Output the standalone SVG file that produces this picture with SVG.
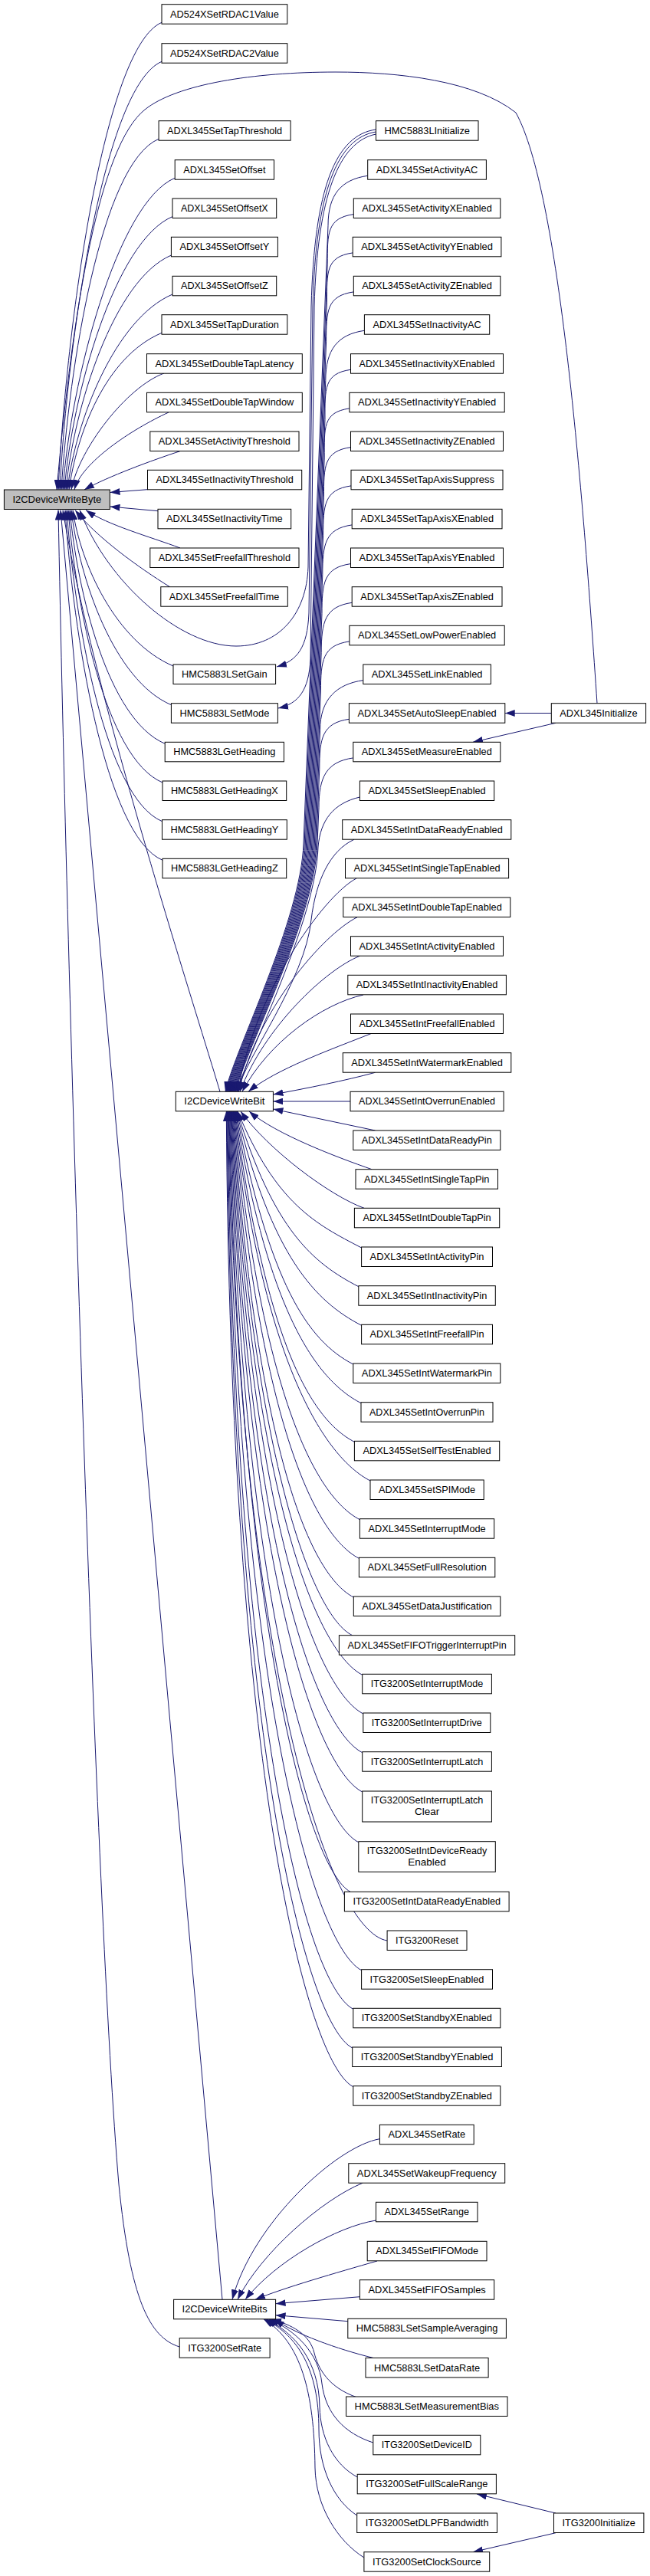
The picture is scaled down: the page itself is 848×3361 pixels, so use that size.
<svg xmlns="http://www.w3.org/2000/svg" width="848" height="3361" viewBox="0 0 848 3361">
<style>
.n rect{fill:#fff;stroke:#000;stroke-width:1}
.n.hl rect{fill:#bfbfbf}
.n text{font-family:"Liberation Sans",Arial,sans-serif;font-size:13.5px;text-anchor:middle;fill:#000}
#edges path{fill:none;stroke:#191970;stroke-width:1;marker-end:url(#ah)}
</style>
<defs>
<marker id="ah" markerUnits="userSpaceOnUse" markerWidth="13" markerHeight="9" refX="13" refY="4.5" orient="auto"><path d="M0,0 L13,4.5 L0,9 z" fill="#191970"/></marker>
</defs>
<rect width="848" height="3361" fill="#fff"/>
<g id="edges">
<!-- into I2CDeviceWriteByte from above -->
<path d="M779,917.7 C760,640 730,250 673,147 C620,105 520,94 438,94 C330,94 230,110 189,143 C130,190 95,400 74,639"/>
<path d="M211,29.3 C136,61.3 86,426.3 76,639"/>
<path d="M211,80.3 C136,112.3 88,444.2 78,639"/>
<path d="M207,181.3 C132,213.3 90,479.2 80,639"/>
<path d="M228,232.3 C153,264.3 92,497.4 82,639"/>
<path d="M225,282.6 C150,314.6 94,515 84,639"/>
<path d="M223.4,333 C148.4,365 96,532.6 86,639"/>
<path d="M225,384 C150,416 98,550.4 88,639"/>
<path d="M211,434.3 C136,466.3 100,568 90,639"/>
<path d="M214,487 C165,505 103,586 93,639"/>
<path d="M220,538 C172,560 106,603.6 97,639"/>
<path d="M235,588.6 C200,600 140,622 110,639"/>
<path d="M192.5,638.7 L143.5,642.5"/>
<path d="M206,666.7 L143.5,661"/>
<path d="M235,715 C195,700 140,685 112,665.5"/>
<path d="M222,766 C180,740 125,700 98,665.5"/>
<!-- into I2CDeviceWriteByte from below -->
<path d="M490.5,169 C438,176 410,245 406,400 L402,740 C400,800 365,843 308,843 C235,843 140,760 104,665.5"/>
<path d="M226,869 C151,837 105,735.7 95,665.5"/>
<path d="M223.4,919.7 C148.4,887.7 103,753.4 93,665.5"/>
<path d="M215.2,970.3 C140.2,938.3 101,771 91,665.5"/>
<path d="M212,1021 C137,989 99,788.9 89,665.5"/>
<path d="M211.5,1071.7 C136.5,1039.7 97,806.6 87,665.5"/>
<path d="M212,1122.3 C137,1090.3 95,824.4 85,665.5"/>
<path d="M287,1424.3 C250,1300 120,900 82,665.5"/>
<path d="M290,3000.3 L79,665.5"/>
<path d="M234.2,3062 C195,3050 170,3000 155,2850 C125,2500 88,1300 76,665.5"/>
<!-- HMC5883LInitialize -->
<path d="M490.5,172 C440,180 412,250 408,400 L403,800 C401,845 388,862 361,870"/>
<path d="M490.5,175 C442,185 414,255 410,400 L405,860 C403,900 390,918 363,924"/>
<!-- ADXL345Initialize / ITG3200Initialize -->
<path d="M719.3,930.5 L658.7,930.5"/>
<path d="M725,943.3 L617,968.3"/>
<path d="M725,3279 L622,3254"/>
<path d="M725,3304.7 L617,3329.7"/>
<!-- into I2CDeviceWriteBit from above -->
<path d="M479.7,229.3 C444.7,234.3 428,254.3 428,294.3 L396,1100 C393,1200 306,1370 294,1424.3"/>
<path d="M461.3,279.6 C426.3,284.6 427.2,304.6 427.2,344.6 L397.2,1100 C394.2,1200 306.9,1370 294.9,1424.3"/>
<path d="M460.2,329.9 C425.2,334.9 426.4,354.9 426.4,394.9 L398.4,1100 C395.4,1200 307.8,1370 295.8,1424.3"/>
<path d="M461.3,380.9 C426.3,385.9 425.6,405.9 425.6,445.9 L399.6,1100 C396.6,1200 308.7,1370 296.7,1424.3"/>
<path d="M475.4,431.3 C440.4,436.3 424.8,456.3 424.8,496.3 L400.8,1100 C397.8,1200 309.6,1370 297.6,1424.3"/>
<path d="M457.5,482.3 C422.5,487.3 424,507.3 424,547.3 L402,1100 C399,1200 310.5,1370 298.5,1424.3"/>
<path d="M455.9,532.9 C420.9,537.9 423.2,557.9 423.2,597.9 L403.2,1100 C400.2,1200 311.4,1370 299.4,1424.3"/>
<path d="M457.5,583.6 C422.5,588.6 422.4,608.6 422.4,648.6 L404.4,1100 C401.4,1200 312.3,1370 300.3,1424.3"/>
<path d="M458,633.9 C423,638.9 421.6,658.9 421.6,698.9 L405.6,1100 C402.6,1200 313.2,1370 301.2,1424.3"/>
<path d="M459.2,684.9 C424.2,689.9 420.8,709.9 420.8,749.9 L406.8,1100 C403.8,1200 314.1,1370 302.1,1424.3"/>
<path d="M457.5,735.6 C422.5,740.6 420,760.6 420,800.6 L408,1100 C405,1200 315,1370 303,1424.3"/>
<path d="M459.2,786.3 C424.2,791.3 419.2,811.3 419.2,851.3 L409.2,1100 C406.2,1200 315.9,1370 303.9,1424.3"/>
<path d="M455.9,836.9 C420.9,841.9 418.4,861.9 418.4,901.9 L410.4,1100 C407.4,1200 316.8,1370 304.8,1424.3"/>
<path d="M473.8,887.6 C438.8,892.6 417.6,912.6 417.6,952.6 L411.6,1100 C408.6,1200 317.7,1370 305.7,1424.3"/>
<path d="M455.4,938.3 C420.4,943.3 416.8,963.3 416.8,1003.3 L412.8,1100 C409.8,1200 318.6,1370 306.6,1424.3"/>
<path d="M460.8,988.9 C425.8,993.9 416,1013.9 416,1053.9 L414,1100 C411,1200 319.5,1370 307.5,1424.3"/>
<path d="M469.4,1040 C435,1048 418,1070 415,1105 C412,1200 330,1360 308.5,1424.3"/>
<path d="M462,1095.3 C430,1110 412,1150 406,1200 C398,1280 320,1380 309.5,1424.3"/>
<path d="M465,1146 C420,1170 330,1300 310.5,1424.3"/>
<path d="M466,1196.7 C420,1220 335,1320 311.5,1424.3"/>
<path d="M469.4,1247.3 C425,1265 345,1340 313,1424.3"/>
<path d="M474,1298 C420,1310 350,1360 316,1424.3"/>
<path d="M484,1348.6 C430,1370 360,1395 324,1424.3"/>
<path d="M489.5,1399.3 C450,1410 400,1420 356.4,1428"/>
<path d="M457,1437 L356.4,1437"/>
<!-- into I2CDeviceWriteBit from below -->
<path d="M489.5,1475 L356.4,1447"/>
<path d="M485,1525.7 C440,1510 360,1480 325,1450"/>
<path d="M475,1576.3 C430,1560 350,1500 314,1450"/>
<path d="M471.6,1628 C411.6,1597 360,1570.4 310,1450"/>
<path d="M467.8,1678.7 C407.8,1647.7 357.2,1604.8 309.3,1450"/>
<path d="M471.6,1729.3 C411.6,1698.3 354.3,1639.2 308.6,1450"/>
<path d="M460.8,1780 C400.8,1749 351.5,1673.7 307.9,1450"/>
<path d="M471,1830.7 C411,1799.7 348.6,1708.2 307.2,1450"/>
<path d="M462.4,1881.3 C402.4,1850.3 345.8,1742.6 306.5,1450"/>
<path d="M483,1932 C423,1901 342.9,1777.1 305.8,1450"/>
<path d="M469.4,1982.7 C409.4,1951.7 340.1,1811.6 305.1,1450"/>
<path d="M468.4,2033.3 C408.4,2002.3 337.3,1846 304.4,1450"/>
<path d="M461.3,2084 C401.3,2053 334.4,1880.4 303.7,1450"/>
<path d="M459.7,2133.7 C410,2110 331.6,1914.9 303,1450"/>
<path d="M472.7,2185.3 C412.7,2154.3 328.7,1949.3 302.3,1450"/>
<path d="M473.8,2236 C413.8,2205 325.9,1983.8 301.6,1450"/>
<path d="M472.7,2286.7 C412.7,2255.7 323,2018.3 300.9,1450"/>
<path d="M472.7,2338 C412.7,2307 320.2,2053.2 300.2,1450"/>
<path d="M467.8,2403.7 C407.8,2372.7 317.4,2097.8 299.5,1450"/>
<path d="M457,2468.3 C405,2440 314.5,2142.4 298.8,1450"/>
<path d="M505.1,2532 C430,2520 311.7,2177 298.1,1450"/>
<path d="M471.6,2570.7 C411.6,2539.7 308.8,2211.4 297.4,1450"/>
<path d="M460.8,2621.3 C400.8,2590.3 306,2245.8 296.7,1450"/>
<path d="M459.7,2672 C399.7,2641 303.1,2280.3 296,1450"/>
<path d="M460.8,2722.7 C400.8,2691.7 300.3,2314.8 295.3,1450"/>
<!-- into I2CDeviceWriteBits -->
<path d="M495.4,2790.7 C440,2800 330,2900 303,3000.3"/>
<path d="M473,2848.3 C420,2870 340,2940 310,3000.3"/>
<path d="M490.5,2897 C440,2905 360,2950 320,3000.3"/>
<path d="M492,2950 C440,2965 370,2985 333,3000.3"/>
<path d="M469.4,2996.7 L359.6,3005.7"/>
<path d="M453.8,3028.7 L359.6,3020.7"/>
<path d="M487,3076.5 C440,3065 385,3045 358,3026"/>
<path d="M466,3128 C428,3115 415,3090 410,3070 C404,3045 380,3033 354,3026"/>
<path d="M486.8,3187 C450,3175 425,3150 420,3110 C416,3070 385,3040 351,3026"/>
<path d="M466.2,3232 C435,3215 418,3180 417,3140 C416,3080 385,3045 348,3026"/>
<path d="M465.7,3282 C435,3262 416,3220 416,3170 C416,3090 388,3048 346,3026"/>
<path d="M474.9,3337 C440,3315 412,3270 411,3220 C410,3120 392,3055 344,3026"/>
</g>
<!-- column 1 -->
<g id="n_writebyte" class="n hl"><rect x="5.4" y="639" width="137.9" height="25.5"/><text x="74.35" y="656" textLength="115.9" lengthAdjust="spacingAndGlyphs">I2CDeviceWriteByte</text></g>
<!-- column 2 -->
<g id="n_rdac1" class="n"><rect x="211" y="5.7" width="163.8" height="25.5"/><text x="292.9" y="22.7" textLength="141.8" lengthAdjust="spacingAndGlyphs">AD524XSetRDAC1Value</text></g>
<g id="n_rdac2" class="n"><rect x="211" y="56.7" width="163.8" height="25.5"/><text x="292.9" y="73.7" textLength="141.8" lengthAdjust="spacingAndGlyphs">AD524XSetRDAC2Value</text></g>
<g id="n_tapthr" class="n"><rect x="207.1" y="157.7" width="172" height="25.5"/><text x="293.1" y="174.7" textLength="150" lengthAdjust="spacingAndGlyphs">ADXL345SetTapThreshold</text></g>
<g id="n_offset" class="n"><rect x="228.2" y="208.7" width="129.3" height="25.5"/><text x="292.85" y="225.7" textLength="107.3" lengthAdjust="spacingAndGlyphs">ADXL345SetOffset</text></g>
<g id="n_offsetx" class="n"><rect x="225" y="259" width="135.7" height="25.5"/><text x="292.85" y="276" textLength="113.7" lengthAdjust="spacingAndGlyphs">ADXL345SetOffsetX</text></g>
<g id="n_offsety" class="n"><rect x="223.4" y="309.3" width="139" height="25.5"/><text x="292.9" y="326.3" textLength="117" lengthAdjust="spacingAndGlyphs">ADXL345SetOffsetY</text></g>
<g id="n_offsetz" class="n"><rect x="225" y="360.3" width="135.7" height="25.5"/><text x="292.85" y="377.3" textLength="113.7" lengthAdjust="spacingAndGlyphs">ADXL345SetOffsetZ</text></g>
<g id="n_tapdur" class="n"><rect x="211" y="410.7" width="163.8" height="25.5"/><text x="292.9" y="427.7" textLength="141.8" lengthAdjust="spacingAndGlyphs">ADXL345SetTapDuration</text></g>
<g id="n_dtlat" class="n"><rect x="191.5" y="461.7" width="202.8" height="25.5"/><text x="292.9" y="478.7" textLength="180.8" lengthAdjust="spacingAndGlyphs">ADXL345SetDoubleTapLatency</text></g>
<g id="n_dtwin" class="n"><rect x="191.5" y="512.3" width="202.8" height="25.5"/><text x="292.9" y="529.3" textLength="180.8" lengthAdjust="spacingAndGlyphs">ADXL345SetDoubleTapWindow</text></g>
<g id="n_actthr" class="n"><rect x="195.8" y="563" width="194.2" height="25.5"/><text x="292.9" y="580" textLength="172.2" lengthAdjust="spacingAndGlyphs">ADXL345SetActivityThreshold</text></g>
<g id="n_inactthr" class="n"><rect x="192.5" y="613.3" width="201.2" height="25.5"/><text x="293.1" y="630.3" textLength="179.2" lengthAdjust="spacingAndGlyphs">ADXL345SetInactivityThreshold</text></g>
<g id="n_inacttime" class="n"><rect x="206" y="664.3" width="173.7" height="25.5"/><text x="292.85" y="681.3" textLength="151.7" lengthAdjust="spacingAndGlyphs">ADXL345SetInactivityTime</text></g>
<g id="n_ffthr" class="n"><rect x="195.8" y="715" width="194.2" height="25.5"/><text x="292.9" y="732" textLength="172.2" lengthAdjust="spacingAndGlyphs">ADXL345SetFreefallThreshold</text></g>
<g id="n_fftime" class="n"><rect x="209.8" y="765.7" width="165.5" height="25.5"/><text x="292.55" y="782.7" textLength="143.5" lengthAdjust="spacingAndGlyphs">ADXL345SetFreefallTime</text></g>
<g id="n_setgain" class="n"><rect x="226" y="867" width="133.6" height="25.5"/><text x="292.8" y="884" textLength="111.6" lengthAdjust="spacingAndGlyphs">HMC5883LSetGain</text></g>
<g id="n_setmode" class="n"><rect x="223.4" y="917.7" width="139" height="25.5"/><text x="292.9" y="934.7" textLength="117" lengthAdjust="spacingAndGlyphs">HMC5883LSetMode</text></g>
<g id="n_gethead" class="n"><rect x="215.2" y="968.3" width="155.2" height="25.5"/><text x="292.8" y="985.3" textLength="133.2" lengthAdjust="spacingAndGlyphs">HMC5883LGetHeading</text></g>
<g id="n_getheadx" class="n"><rect x="212" y="1019" width="161.7" height="25.5"/><text x="292.85" y="1036" textLength="139.7" lengthAdjust="spacingAndGlyphs">HMC5883LGetHeadingX</text></g>
<g id="n_getheady" class="n"><rect x="211.5" y="1069.7" width="162.8" height="25.5"/><text x="292.9" y="1086.7" textLength="140.8" lengthAdjust="spacingAndGlyphs">HMC5883LGetHeadingY</text></g>
<g id="n_getheadz" class="n"><rect x="212" y="1120.3" width="161.7" height="25.5"/><text x="292.85" y="1137.3" textLength="139.7" lengthAdjust="spacingAndGlyphs">HMC5883LGetHeadingZ</text></g>
<g id="n_writebit" class="n"><rect x="229.3" y="1424.3" width="127.1" height="25.5"/><text x="292.85" y="1441.3" textLength="105.1" lengthAdjust="spacingAndGlyphs">I2CDeviceWriteBit</text></g>
<g id="n_writebits" class="n"><rect x="226.6" y="3000.3" width="133" height="25.5"/><text x="293.1" y="3017.3" textLength="111" lengthAdjust="spacingAndGlyphs">I2CDeviceWriteBits</text></g>
<g id="n_itgrate" class="n"><rect x="234.2" y="3050.7" width="117.9" height="25.5"/><text x="293.15" y="3067.7" textLength="95.9" lengthAdjust="spacingAndGlyphs">ITG3200SetRate</text></g>
<!-- column 3 -->
<g id="n_hmcinit" class="n"><rect x="490.5" y="157.7" width="133.5" height="25.5"/><text x="557.25" y="174.7" textLength="111.5" lengthAdjust="spacingAndGlyphs">HMC5883LInitialize</text></g>
<g id="n_actac" class="n"><rect x="479.7" y="208.7" width="154.7" height="25.5"/><text x="557.05" y="225.7" textLength="132.7" lengthAdjust="spacingAndGlyphs">ADXL345SetActivityAC</text></g>
<g id="n_actx" class="n"><rect x="461.3" y="259" width="191.5" height="25.5"/><text x="557.05" y="276" textLength="169.5" lengthAdjust="spacingAndGlyphs">ADXL345SetActivityXEnabled</text></g>
<g id="n_acty" class="n"><rect x="460.2" y="309.3" width="193.7" height="25.5"/><text x="557.05" y="326.3" textLength="171.7" lengthAdjust="spacingAndGlyphs">ADXL345SetActivityYEnabled</text></g>
<g id="n_actz" class="n"><rect x="461.3" y="360.3" width="191.5" height="25.5"/><text x="557.05" y="377.3" textLength="169.5" lengthAdjust="spacingAndGlyphs">ADXL345SetActivityZEnabled</text></g>
<g id="n_inactac" class="n"><rect x="475.4" y="410.7" width="163.3" height="25.5"/><text x="557.05" y="427.7" textLength="141.3" lengthAdjust="spacingAndGlyphs">ADXL345SetInactivityAC</text></g>
<g id="n_inactx" class="n"><rect x="457.5" y="461.7" width="199" height="25.5"/><text x="557" y="478.7" textLength="177" lengthAdjust="spacingAndGlyphs">ADXL345SetInactivityXEnabled</text></g>
<g id="n_inacty" class="n"><rect x="455.9" y="512.3" width="202.3" height="25.5"/><text x="557.05" y="529.3" textLength="180.3" lengthAdjust="spacingAndGlyphs">ADXL345SetInactivityYEnabled</text></g>
<g id="n_inactz" class="n"><rect x="457.5" y="563" width="199" height="25.5"/><text x="557" y="580" textLength="177" lengthAdjust="spacingAndGlyphs">ADXL345SetInactivityZEnabled</text></g>
<g id="n_tapsup" class="n"><rect x="458" y="613.3" width="198" height="25.5"/><text x="557" y="630.3" textLength="176" lengthAdjust="spacingAndGlyphs">ADXL345SetTapAxisSuppress</text></g>
<g id="n_tapx" class="n"><rect x="459.2" y="664.3" width="195.8" height="25.5"/><text x="557.1" y="681.3" textLength="173.8" lengthAdjust="spacingAndGlyphs">ADXL345SetTapAxisXEnabled</text></g>
<g id="n_tapy" class="n"><rect x="457.5" y="715" width="199" height="25.5"/><text x="557" y="732" textLength="177" lengthAdjust="spacingAndGlyphs">ADXL345SetTapAxisYEnabled</text></g>
<g id="n_tapz" class="n"><rect x="459.2" y="765.7" width="195.8" height="25.5"/><text x="557.1" y="782.7" textLength="173.8" lengthAdjust="spacingAndGlyphs">ADXL345SetTapAxisZEnabled</text></g>
<g id="n_lowpow" class="n"><rect x="455.9" y="816.3" width="202.3" height="25.5"/><text x="557.05" y="833.3" textLength="180.3" lengthAdjust="spacingAndGlyphs">ADXL345SetLowPowerEnabled</text></g>
<g id="n_link" class="n"><rect x="473.8" y="867" width="166.6" height="25.5"/><text x="557.1" y="884" textLength="144.6" lengthAdjust="spacingAndGlyphs">ADXL345SetLinkEnabled</text></g>
<g id="n_autosleep" class="n"><rect x="455.4" y="917.7" width="203.4" height="25.5"/><text x="557.1" y="934.7" textLength="181.4" lengthAdjust="spacingAndGlyphs">ADXL345SetAutoSleepEnabled</text></g>
<g id="n_measure" class="n"><rect x="460.8" y="968.3" width="192" height="25.5"/><text x="556.8" y="985.3" textLength="170" lengthAdjust="spacingAndGlyphs">ADXL345SetMeasureEnabled</text></g>
<g id="n_sleep" class="n"><rect x="469.4" y="1019" width="175.3" height="25.5"/><text x="557.05" y="1036" textLength="153.3" lengthAdjust="spacingAndGlyphs">ADXL345SetSleepEnabled</text></g>
<g id="n_intdre" class="n"><rect x="446.7" y="1069.7" width="220.1" height="25.5"/><text x="556.75" y="1086.7" textLength="198.1" lengthAdjust="spacingAndGlyphs">ADXL345SetIntDataReadyEnabled</text></g>
<g id="n_intste" class="n"><rect x="450.5" y="1120.3" width="213.1" height="25.5"/><text x="557.05" y="1137.3" textLength="191.1" lengthAdjust="spacingAndGlyphs">ADXL345SetIntSingleTapEnabled</text></g>
<g id="n_intdte" class="n"><rect x="447.8" y="1171" width="218" height="25.5"/><text x="556.8" y="1188" textLength="196" lengthAdjust="spacingAndGlyphs">ADXL345SetIntDoubleTapEnabled</text></g>
<g id="n_intacte" class="n"><rect x="457.5" y="1221.7" width="199" height="25.5"/><text x="557" y="1238.7" textLength="177" lengthAdjust="spacingAndGlyphs">ADXL345SetIntActivityEnabled</text></g>
<g id="n_intinacte" class="n"><rect x="453.8" y="1272.3" width="206.6" height="25.5"/><text x="557.1" y="1289.3" textLength="184.6" lengthAdjust="spacingAndGlyphs">ADXL345SetIntInactivityEnabled</text></g>
<g id="n_intffe" class="n"><rect x="457.5" y="1323" width="199" height="25.5"/><text x="557" y="1340" textLength="177" lengthAdjust="spacingAndGlyphs">ADXL345SetIntFreefallEnabled</text></g>
<g id="n_intwme" class="n"><rect x="447.3" y="1373.7" width="219.5" height="25.5"/><text x="557.05" y="1390.7" textLength="197.5" lengthAdjust="spacingAndGlyphs">ADXL345SetIntWatermarkEnabled</text></g>
<g id="n_intove" class="n"><rect x="457" y="1424.3" width="200.1" height="25.5"/><text x="557.05" y="1441.3" textLength="178.1" lengthAdjust="spacingAndGlyphs">ADXL345SetIntOverrunEnabled</text></g>
<g id="n_intdrp" class="n"><rect x="460.8" y="1475" width="192" height="25.5"/><text x="556.8" y="1492" textLength="170" lengthAdjust="spacingAndGlyphs">ADXL345SetIntDataReadyPin</text></g>
<g id="n_intstp" class="n"><rect x="464" y="1525.7" width="185.5" height="25.5"/><text x="556.75" y="1542.7" textLength="163.5" lengthAdjust="spacingAndGlyphs">ADXL345SetIntSingleTapPin</text></g>
<g id="n_intdtp" class="n"><rect x="462.4" y="1576.3" width="189.3" height="25.5"/><text x="557.05" y="1593.3" textLength="167.3" lengthAdjust="spacingAndGlyphs">ADXL345SetIntDoubleTapPin</text></g>
<g id="n_intactp" class="n"><rect x="471.6" y="1627" width="170.9" height="25.5"/><text x="557.05" y="1644" textLength="148.9" lengthAdjust="spacingAndGlyphs">ADXL345SetIntActivityPin</text></g>
<g id="n_intinactp" class="n"><rect x="467.8" y="1677.7" width="178.5" height="25.5"/><text x="557.05" y="1694.7" textLength="156.5" lengthAdjust="spacingAndGlyphs">ADXL345SetIntInactivityPin</text></g>
<g id="n_intffp" class="n"><rect x="471.6" y="1728.3" width="170.9" height="25.5"/><text x="557.05" y="1745.3" textLength="148.9" lengthAdjust="spacingAndGlyphs">ADXL345SetIntFreefallPin</text></g>
<g id="n_intwmp" class="n"><rect x="460.8" y="1779" width="192" height="25.5"/><text x="556.8" y="1796" textLength="170" lengthAdjust="spacingAndGlyphs">ADXL345SetIntWatermarkPin</text></g>
<g id="n_intovp" class="n"><rect x="471" y="1829.7" width="172" height="25.5"/><text x="557" y="1846.7" textLength="150" lengthAdjust="spacingAndGlyphs">ADXL345SetIntOverrunPin</text></g>
<g id="n_selftest" class="n"><rect x="462.4" y="1880.3" width="189.3" height="25.5"/><text x="557.05" y="1897.3" textLength="167.3" lengthAdjust="spacingAndGlyphs">ADXL345SetSelfTestEnabled</text></g>
<g id="n_spimode" class="n"><rect x="483" y="1931" width="148.2" height="25.5"/><text x="557.1" y="1948" textLength="126.2" lengthAdjust="spacingAndGlyphs">ADXL345SetSPIMode</text></g>
<g id="n_intmode" class="n"><rect x="469.4" y="1981.7" width="175.3" height="25.5"/><text x="557.05" y="1998.7" textLength="153.3" lengthAdjust="spacingAndGlyphs">ADXL345SetInterruptMode</text></g>
<g id="n_fullres" class="n"><rect x="468.4" y="2032.3" width="177.4" height="25.5"/><text x="557.1" y="2049.3" textLength="155.4" lengthAdjust="spacingAndGlyphs">ADXL345SetFullResolution</text></g>
<g id="n_datajust" class="n"><rect x="461.3" y="2083" width="191.5" height="25.5"/><text x="557.05" y="2100" textLength="169.5" lengthAdjust="spacingAndGlyphs">ADXL345SetDataJustification</text></g>
<g id="n_fifotrig" class="n"><rect x="442.4" y="2133.7" width="229.3" height="25.5"/><text x="557.05" y="2150.7" textLength="207.3" lengthAdjust="spacingAndGlyphs">ADXL345SetFIFOTriggerInterruptPin</text></g>
<g id="n_itgintmode" class="n"><rect x="472.7" y="2184.3" width="168.7" height="25.5"/><text x="557.05" y="2201.3" textLength="146.7" lengthAdjust="spacingAndGlyphs">ITG3200SetInterruptMode</text></g>
<g id="n_itgintdrive" class="n"><rect x="473.8" y="2235" width="166" height="25.5"/><text x="556.8" y="2252" textLength="144" lengthAdjust="spacingAndGlyphs">ITG3200SetInterruptDrive</text></g>
<g id="n_itglatch" class="n"><rect x="472.7" y="2285.7" width="168.7" height="25.5"/><text x="557.05" y="2302.7" textLength="146.7" lengthAdjust="spacingAndGlyphs">ITG3200SetInterruptLatch</text></g>
<g id="n_itglatchclr" class="n"><rect x="472.7" y="2337" width="168.7" height="40"/><text x="557.05" y="2353.3" textLength="146.7" lengthAdjust="spacingAndGlyphs">ITG3200SetInterruptLatch</text><text x="557.05" y="2368.3">Clear</text></g>
<g id="n_itgdevready" class="n"><rect x="467.8" y="2402.7" width="178.5" height="39.6"/><text x="557.05" y="2419" textLength="156.5" lengthAdjust="spacingAndGlyphs">ITG3200SetIntDeviceReady</text><text x="557.05" y="2433.5">Enabled</text></g>
<g id="n_itgdre" class="n"><rect x="449.4" y="2468.3" width="214.7" height="25.5"/><text x="556.75" y="2485.3" textLength="192.7" lengthAdjust="spacingAndGlyphs">ITG3200SetIntDataReadyEnabled</text></g>
<g id="n_itgreset" class="n"><rect x="505.1" y="2519" width="103.9" height="25.5"/><text x="557.05" y="2536" textLength="81.9" lengthAdjust="spacingAndGlyphs">ITG3200Reset</text></g>
<g id="n_itgsleep" class="n"><rect x="471.6" y="2569.7" width="170.9" height="25.5"/><text x="557.05" y="2586.7" textLength="148.9" lengthAdjust="spacingAndGlyphs">ITG3200SetSleepEnabled</text></g>
<g id="n_itgsbx" class="n"><rect x="460.8" y="2620.3" width="192" height="25.5"/><text x="556.8" y="2637.3" textLength="170" lengthAdjust="spacingAndGlyphs">ITG3200SetStandbyXEnabled</text></g>
<g id="n_itgsby" class="n"><rect x="459.7" y="2671" width="194.7" height="25.5"/><text x="557.05" y="2688" textLength="172.7" lengthAdjust="spacingAndGlyphs">ITG3200SetStandbyYEnabled</text></g>
<g id="n_itgsbz" class="n"><rect x="460.8" y="2721.7" width="192" height="25.5"/><text x="556.8" y="2738.7" textLength="170" lengthAdjust="spacingAndGlyphs">ITG3200SetStandbyZEnabled</text></g>
<g id="n_adxlrate" class="n"><rect x="495.4" y="2772.3" width="122.8" height="25.5"/><text x="556.8" y="2789.3" textLength="100.8" lengthAdjust="spacingAndGlyphs">ADXL345SetRate</text></g>
<g id="n_wakeup" class="n"><rect x="454.8" y="2822.7" width="203.9" height="25.5"/><text x="556.75" y="2839.7" textLength="181.9" lengthAdjust="spacingAndGlyphs">ADXL345SetWakeupFrequency</text></g>
<g id="n_range" class="n"><rect x="490.5" y="2873.3" width="132.5" height="25.5"/><text x="556.75" y="2890.3" textLength="110.5" lengthAdjust="spacingAndGlyphs">ADXL345SetRange</text></g>
<g id="n_fifomode" class="n"><rect x="479.2" y="2924.3" width="155.8" height="25.5"/><text x="557.1" y="2941.3" textLength="133.8" lengthAdjust="spacingAndGlyphs">ADXL345SetFIFOMode</text></g>
<g id="n_fifosamp" class="n"><rect x="469.4" y="2974.7" width="175.3" height="25.5"/><text x="557.05" y="2991.7" textLength="153.3" lengthAdjust="spacingAndGlyphs">ADXL345SetFIFOSamples</text></g>
<g id="n_sampavg" class="n"><rect x="453.8" y="3025.3" width="206.6" height="25.5"/><text x="557.1" y="3042.3" textLength="184.6" lengthAdjust="spacingAndGlyphs">HMC5883LSetSampleAveraging</text></g>
<g id="n_datarate" class="n"><rect x="477" y="3076.5" width="160.1" height="25.5"/><text x="557.05" y="3093.5" textLength="138.1" lengthAdjust="spacingAndGlyphs">HMC5883LSetDataRate</text></g>
<g id="n_measbias" class="n"><rect x="451.6" y="3127" width="210.4" height="25.5"/><text x="556.8" y="3144" textLength="188.4" lengthAdjust="spacingAndGlyphs">HMC5883LSetMeasurementBias</text></g>
<g id="n_devid" class="n"><rect x="486.8" y="3177.3" width="140" height="25.5"/><text x="556.8" y="3194.3" textLength="118" lengthAdjust="spacingAndGlyphs">ITG3200SetDeviceID</text></g>
<g id="n_fsrange" class="n"><rect x="466.2" y="3228.3" width="181.2" height="25.5"/><text x="556.8" y="3245.3" textLength="159.2" lengthAdjust="spacingAndGlyphs">ITG3200SetFullScaleRange</text></g>
<g id="n_dlpf" class="n"><rect x="465.7" y="3279" width="182.8" height="25.5"/><text x="557.1" y="3296" textLength="160.8" lengthAdjust="spacingAndGlyphs">ITG3200SetDLPFBandwidth</text></g>
<g id="n_clksrc" class="n"><rect x="474.9" y="3329.7" width="163.8" height="25.5"/><text x="556.8" y="3346.7" textLength="141.8" lengthAdjust="spacingAndGlyphs">ITG3200SetClockSource</text></g>
<!-- column 4 -->
<g id="n_adxlinit" class="n"><rect x="719.3" y="917.7" width="123.3" height="25.5"/><text x="780.95" y="934.7" textLength="101.3" lengthAdjust="spacingAndGlyphs">ADXL345Initialize</text></g>
<g id="n_itginit" class="n"><rect x="722.5" y="3279" width="117.4" height="25.5"/><text x="781.2" y="3296" textLength="95.4" lengthAdjust="spacingAndGlyphs">ITG3200Initialize</text></g>
</svg>
